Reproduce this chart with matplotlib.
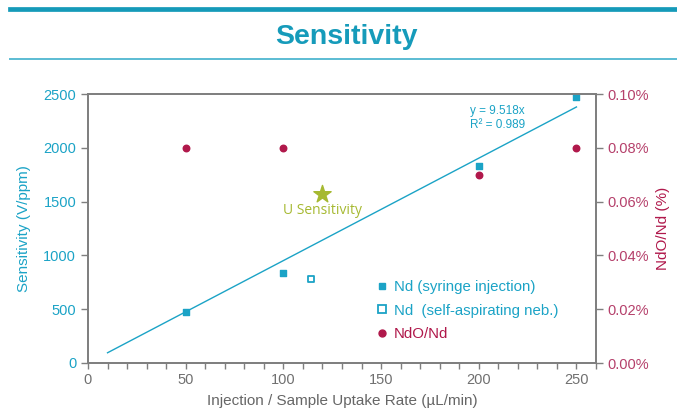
import matplotlib.pyplot as plt
import numpy as np
from matplotlib.lines import Line2D
from matplotlib.ticker import FuncFormatter, MultipleLocator

plt.rcParams["font.family"] = ["Liberation Sans", "DejaVu Sans"]

TEAL = "#1ba3c6"
CRIMSON = "#b0184b"
OLIVE = "#a6b931"
GRAY = "#7f7f7f"

# data
syringe_rate = [50, 100, 200, 250]
syringe_sens = [470, 840, 1835, 2475]
selfasp_rate = [114]
selfasp_sens = [780]
ndo_rate = [50, 100, 200, 250]
ndo_ratio = [0.080, 0.080, 0.070, 0.080]   # percent
u_rate, u_sens = 120, 1570
slope = 9.518
fit_x = [10, 250]

fig = plt.figure(figsize=(6.77, 4.12), dpi=100)

# header bars and title
fig.add_artist(Line2D([10 / 677, 1], [1 - 8.5 / 412] * 2, color="#159ab9", lw=3.4))
fig.add_artist(Line2D([10 / 677, 1], [1 - 59 / 412] * 2, color="#5bbcd3", lw=1.4))
fig.text(0.512, 1 - 37 / 412, "Sensitivity", ha="center", va="center",
         fontsize=20.5, fontweight="bold", color="#169bba")

ax = fig.add_axes([88 / 677, 1 - 363 / 412, 508 / 677, 269 / 412])
ax2 = ax.twinx()

ax.plot(fit_x, [slope * x for x in fit_x], color=TEAL, lw=1)
ax.scatter(syringe_rate, syringe_sens, marker="s", s=22, color=TEAL, zorder=3)
ax.scatter(selfasp_rate, selfasp_sens, marker="s", s=22, facecolor="white",
           edgecolor=TEAL, linewidth=1.3, zorder=3)
ax.scatter([u_rate], [u_sens], marker="*", s=170, color=OLIVE, zorder=3)
ax.text(u_rate, u_sens - 85, "U Sensitivity", ha="center", va="top",
        color=OLIVE, fontsize=10, family="Open Sans")
ax2.scatter(ndo_rate, ndo_ratio, marker="o", s=22, color=CRIMSON, zorder=3)

ax.text(0.752, 0.958, "y = 9.518x\nR² = 0.989", transform=ax.transAxes,
        ha="left", va="top", fontsize=8.5, color=TEAL, linespacing=1.2)

ax.set_xlim(0, 260)
ax.set_ylim(0, 2500)
ax2.set_ylim(0, 0.1)
ax.xaxis.set_major_locator(MultipleLocator(50))
ax.xaxis.set_minor_locator(MultipleLocator(10))
ax.yaxis.set_major_locator(MultipleLocator(500))
ax2.yaxis.set_major_locator(MultipleLocator(0.02))
ax2.yaxis.set_major_formatter(FuncFormatter(lambda v, p: f"{v:.2f}%"))

for a in (ax, ax2):
    for s in a.spines.values():
        s.set_color(GRAY)
        s.set_linewidth(1.3)

ax.tick_params(axis="x", which="both", colors=GRAY, labelcolor="#707070",
               labelsize=10.5, length=4, width=1, direction="out")
ax.tick_params(axis="y", colors=GRAY, labelcolor=TEAL, labelsize=10.5,
               length=5, width=1)
ax2.tick_params(axis="y", colors=GRAY, labelcolor="#b5406b", labelsize=10.5,
                length=5, width=1)

ax.set_xlabel("Injection / Sample Uptake Rate (µL/min)", fontsize=11,
              color="#666666", labelpad=5)
ax.set_ylabel("Sensitivity (V/ppm)", fontsize=11, color=TEAL, labelpad=9)
ax2.set_ylabel("NdO/Nd (%)", fontsize=11, color=CRIMSON, labelpad=5)

handles = [
    Line2D([], [], marker="s", ls="", color=TEAL, markersize=5),
    Line2D([], [], marker="s", ls="", markerfacecolor="white",
           markeredgecolor=TEAL, markeredgewidth=1.3, markersize=6),
    Line2D([], [], marker="o", ls="", color=CRIMSON, markersize=5),
]
labels = ["Nd (syringe injection)", "Nd  (self-aspirating neb.)", "NdO/Nd"]
leg = ax.legend(handles, labels, loc="upper left", bbox_to_anchor=(0.558, 0.33),
                frameon=False, fontsize=10.8, handlelength=0.6, handletextpad=0.5,
                labelspacing=0.62, borderaxespad=0)
for t, c in zip(leg.get_texts(), [TEAL, TEAL, CRIMSON]):
    t.set_color(c)

fig.savefig("out.png", dpi=100)
